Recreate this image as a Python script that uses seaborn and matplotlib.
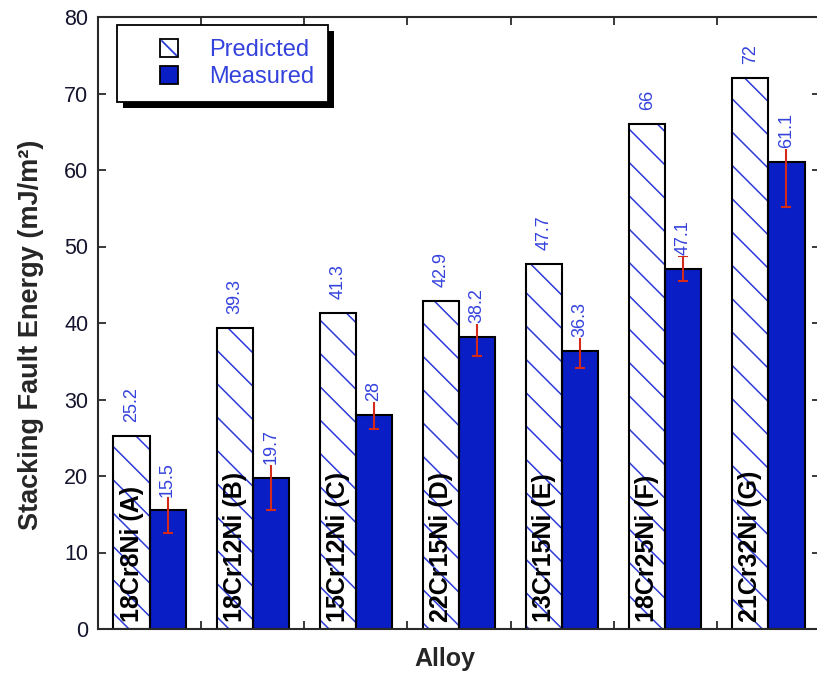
import numpy as np
import pandas as pd
import matplotlib
matplotlib.use("Agg")
import matplotlib.pyplot as plt
from matplotlib.patches import Rectangle
from matplotlib.lines import Line2D
from matplotlib.legend_handler import HandlerPatch
import seaborn as sns

# Stacking fault energy per alloy
alloys = ["18Cr8Ni (A)", "18Cr12Ni (B)", "15Cr12Ni (C)", "22Cr15Ni (D)",
          "13Cr15Ni (E)", "18Cr25Ni (F)", "21Cr32Ni (G)"]
predicted = [25.2, 39.3, 41.3, 42.9, 47.7, 66, 72]
measured = [15.5, 19.7, 28, 38.2, 36.3, 47.1, 61.1]
measured_err = [3.0, 4.1, 1.9, 2.5, 2.2, 1.6, 5.9]
series = ["Predicted", "Measured"]
y_ticks = [0, 10, 20, 30, 40, 50, 60, 70, 80]

sns.set_theme(style="ticks")
plt.rcParams["font.family"] = ["Liberation Sans", "DejaVu Sans"]
plt.rcParams["hatch.linewidth"] = 1.1

label_blue = "#3442dc"
fill_blue = "#0a1ec6"
hatch_blue = "#2c3cd8"
err_red = "#d42a1a"
frame_col = "#2a2a2a"

df = pd.DataFrame({
    "Alloy": alloys * 2,
    "SFE": predicted + measured,
    "Series": [series[0]] * len(alloys) + [series[1]] * len(alloys),
})

fig = plt.figure(figsize=(8.17, 6.8), dpi=100)
ax = fig.add_axes([98 / 817, 51 / 680, 722 / 817, 612 / 680])

sns.barplot(data=df, x="Alloy", y="SFE", hue="Series", hue_order=series,
            palette={"Predicted": "white", "Measured": fill_blue},
            saturation=1, width=0.7, gap=0, legend=False,
            edgecolor="black", linewidth=1.5, ax=ax)

pred_bars = ax.containers[0]
meas_bars = ax.containers[1]

# hatched predicted bars: blue hatch, then a black outline on top
for p in pred_bars:
    p.set_hatch("\\")
    p.set_edgecolor(hatch_blue)
    p.set_linewidth(0)
    ax.add_patch(Rectangle(p.get_xy(), p.get_width(), p.get_height(),
                           fill=False, edgecolor="black", linewidth=1.5, zorder=2.5))

# measurement uncertainty
xs_meas = [p.get_x() + p.get_width() / 2 for p in meas_bars]
ax.errorbar(xs_meas, measured, yerr=measured_err, fmt="none", ecolor=err_red,
            elinewidth=1.5, capsize=3.3, capthick=1.5, zorder=3)

# value labels above the bars
for bars, vals in ((pred_bars, predicted), (meas_bars, measured)):
    for p, v in zip(bars, vals):
        ax.annotate(f"{v:g}", (p.get_x() + p.get_width() / 2, v),
                    xytext=(0, 10), textcoords="offset points",
                    rotation=90, ha="center", va="bottom",
                    color=label_blue, fontsize=13, zorder=4,
                    bbox=dict(fc="white", ec="none", pad=0.6))

# alloy names inside the predicted bars
for p, name in zip(pred_bars, alloys):
    ax.annotate(name, (p.get_x() + p.get_width() / 2, 0),
                xytext=(0, 5), textcoords="offset points",
                rotation=90, ha="center", va="bottom",
                fontsize=18, fontweight="bold", color="black", zorder=4)

ax.set_xlim(-0.5, len(alloys) - 0.5)
ax.set_ylim(0, 80)
ax.set_xticks(np.arange(0.5, len(alloys) - 1, 1))
ax.set_xticklabels([])
ax.set_yticks(y_ticks)
ax.set_yticklabels([str(t) for t in y_ticks])
ax.tick_params(axis="both", direction="in", top=True, right=True,
               length=6, width=1.3, color=frame_col)
ax.tick_params(axis="y", labelsize=15.5, pad=7, labelcolor="#14142e")
for s in ax.spines.values():
    s.set_linewidth(1.5)
    s.set_color(frame_col)

ax.set_ylabel("Stacking Fault Energy (mJ/m²)", fontsize=19.5, fontweight="bold")
ax.yaxis.set_label_coords(-0.075, 0.48)
ax.set_xlabel("Alloy", fontsize=18, fontweight="bold")
ax.xaxis.set_label_coords(0.48, -0.029)


class SquareHandler(HandlerPatch):
    def create_artists(self, legend, orig_handle, xdescent, ydescent,
                       width, height, fontsize, trans):
        side = height
        x0 = -xdescent + width - side
        y0 = -ydescent
        arts = []
        hatch = orig_handle.get_hatch()
        if hatch:
            arts.append(Rectangle((x0, y0), side, side, facecolor="white",
                                  edgecolor="none", transform=trans))
            arts.append(Line2D([x0 + 0.1 * side, x0 + 0.9 * side],
                               [y0 + 0.9 * side, y0 + 0.1 * side],
                               color=hatch_blue, linewidth=1.3, transform=trans))
        arts.append(Rectangle((x0, y0), side, side,
                              facecolor="none" if hatch else orig_handle.get_facecolor(),
                              edgecolor="black", linewidth=1.3, transform=trans))
        return arts


handles = [Rectangle((0, 0), 1, 1, facecolor="white", hatch="\\"),
           Rectangle((0, 0), 1, 1, facecolor=fill_blue)]
leg = ax.legend(handles, series, loc="upper left", bbox_to_anchor=(0.026, 0.987),
                borderaxespad=0, borderpad=0.6, handlelength=2.0, handleheight=0.8,
                handletextpad=1.3, labelspacing=0.2, fontsize=17,
                labelcolor=label_blue, frameon=True, fancybox=False,
                edgecolor="black", framealpha=1,
                handler_map={Rectangle: SquareHandler()})
leg.get_frame().set_linewidth(1.3)
leg.set_zorder(5)

# solid drop shadow behind the legend box
fig.canvas.draw()
bb = leg.get_frame().get_window_extent()
inv = ax.transAxes.inverted()
(sx0, sy0), (sx1, sy1) = inv.transform([[bb.x0 + 6, bb.y0 - 6], [bb.x1 + 6, bb.y1 - 6]])
ax.add_patch(Rectangle((sx0, sy0), sx1 - sx0, sy1 - sy0, transform=ax.transAxes,
                       facecolor="black", edgecolor="none", zorder=4.9, clip_on=False))

fig.savefig("out.png", dpi=100)
